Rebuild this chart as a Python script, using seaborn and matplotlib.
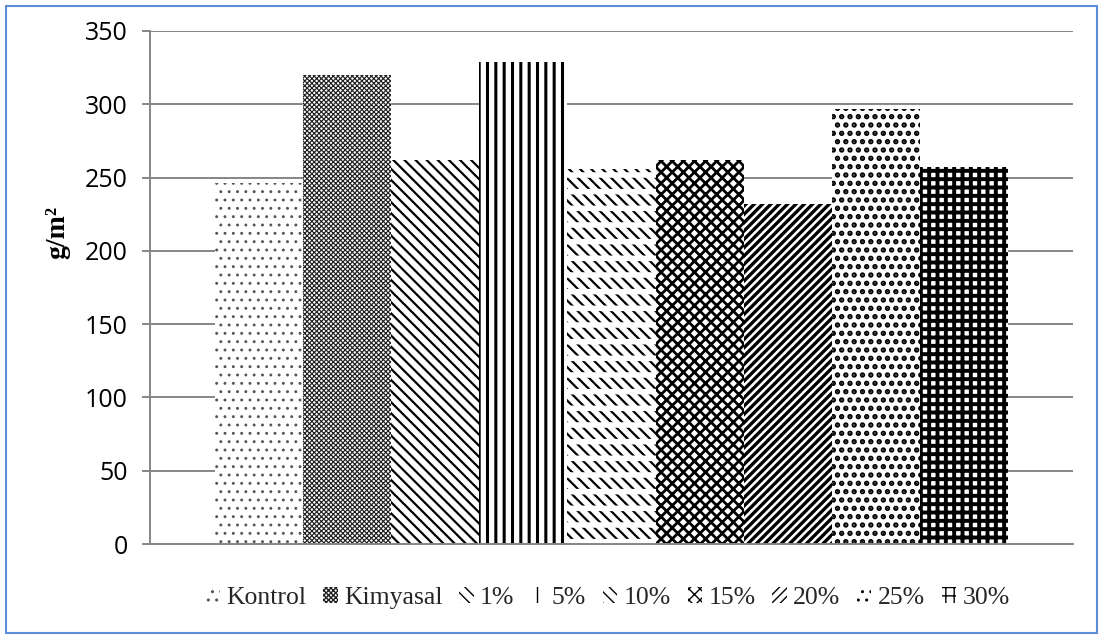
import matplotlib
matplotlib.use("Agg")
import matplotlib.pyplot as plt
import seaborn as sns
import pandas as pd
from matplotlib.patches import Rectangle

# Biomass per treatment (g/m²)
series = ["Kontrol", "Kimyasal", "1%", "5%", "10%", "15%", "20%", "25%", "30%"]
values = [246, 320, 262, 329, 256, 262, 232, 297, 257]
yticks = [0, 50, 100, 150, 200, 250, 300, 350]

# Fill pattern, pattern colour and pattern line width for each treatment
hatches = ["..", "xxxxxxx", "\\\\\\", "||", "\\\\\\", "xxx", "////", "..", "++"]
hatch_col = ["#555555", "#222222", "black", "black", "black", "black", "black", "black", "black"]
hatch_lw = [0.9, 0.85, 1.6, 2.2, 1.6, 2.0, 2.4, 2.6, 2.8]

sns.set_theme(style="white")
plt.rcParams["font.family"] = ["Open Sans", "DejaVu Sans"]

fig = plt.figure(figsize=(11.03, 6.39), dpi=100)
ax = fig.add_axes([150 / 1103, 1 - 544 / 639, 923 / 1103, 513 / 639])

df = pd.DataFrame({"grp": [""] * len(series), "series": series, "value": values})
sns.barplot(data=df, x="grp", y="value", hue="series", hue_order=series,
            palette=["white"] * len(series), saturation=1, width=0.8, gap=0,
            errorbar=None, legend=False, edgecolor="black", linewidth=0, ax=ax)

handles = []
for i, cont in enumerate(ax.containers):
    for p in cont.patches:
        p.set_hatch(hatches[i])
        p.set_facecolor("white")
        p.set_edgecolor(hatch_col[i])
        p.set_linewidth(0)
        if hasattr(p, "set_hatch_linewidth"):
            p.set_hatch_linewidth(hatch_lw[i])
        p.set_zorder(2)
        if series[i] == "10%":
            # white horizontal bands break the diagonals into short dashes
            band = Rectangle(p.get_xy(), p.get_width(), p.get_height(),
                             facecolor="none", edgecolor="white", lw=0,
                             hatch="-", zorder=2.5)
            if hasattr(band, "set_hatch_linewidth"):
                band.set_hatch_linewidth(4.0)
            ax.add_patch(band)
    handles.append(cont.patches[0])

ax.set_xlim(-0.465, 0.465)
ax.set_ylim(0, 350)
ax.set_yticks(yticks)
ax.set_xticks([])
ax.set_xlabel("")

ax.yaxis.grid(True, color="#868686", lw=1.4)
ax.set_axisbelow(True)
for s in ["top", "right"]:
    ax.spines[s].set_visible(False)
for s in ["left", "bottom"]:
    ax.spines[s].set_color("#868686")
    ax.spines[s].set_linewidth(1.4)
ax.tick_params(axis="y", left=True, length=6, width=1.4, color="#868686",
               labelsize=18, labelcolor="black", pad=10)

ax.set_ylabel("g/m²", fontfamily="Liberation Serif", fontweight="bold",
              fontsize=20, color="black")
ax.yaxis.set_label_coords(-0.0867, 0.608)

leg = fig.legend(handles, series, loc="center", bbox_to_anchor=(0.551, 0.064),
                 ncol=len(series), frameon=False,
                 prop={"family": "Liberation Serif", "size": 18.5},
                 handlelength=0.55, handleheight=0.55, handletextpad=0.25,
                 columnspacing=0.66)

fig.add_artist(Rectangle((6 / 1103, 6 / 639), 1091 / 1103, 627 / 639,
                         transform=fig.transFigure, fill=False,
                         edgecolor="#5B8ED6", lw=1.5))

fig.savefig("out.png", dpi=100, facecolor="white")
